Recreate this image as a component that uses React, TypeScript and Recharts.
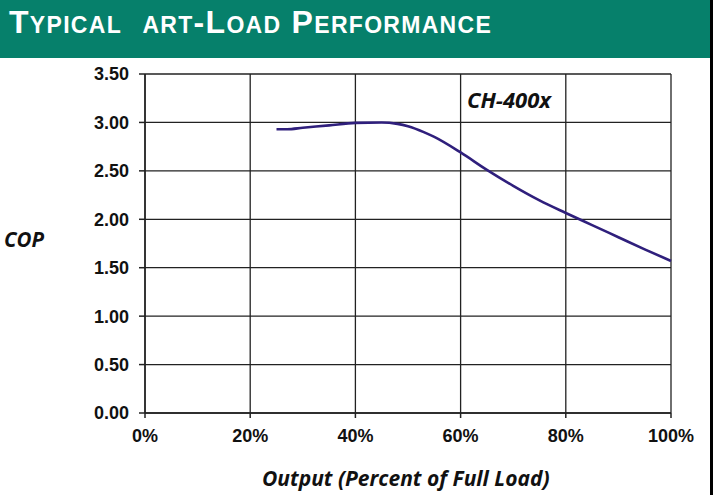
import React from "react";
import { LineChart, Line, XAxis, YAxis, CartesianGrid } from "recharts";

const outputPct = [25, 27, 30, 35, 40, 45, 48, 50, 53, 55, 60, 65, 70, 75, 80, 85, 90, 95, 100];
const copValues = [2.93, 2.93, 2.945, 2.97, 2.995, 3.0, 2.985, 2.96, 2.9, 2.85, 2.69, 2.51, 2.345, 2.195, 2.065, 1.94, 1.815, 1.69, 1.57];
const xTicks = [0, 20, 40, 60, 80, 100];
const yTicks = [0, 0.5, 1, 1.5, 2, 2.5, 3, 3.5];

const data = outputPct.map((p, i) => ({ pct: p, cop: copValues[i] }));

const tickStyle = {
  fontFamily: "'Liberation Sans', Arial, sans-serif",
  fontWeight: 700,
  fontSize: 18,
  fill: "#111",
};

const italicLabel: React.CSSProperties = {
  position: "absolute",
  fontFamily: "'Open Sans', sans-serif",
  fontStyle: "italic",
  fontWeight: 700,
  color: "#111",
  whiteSpace: "pre",
  lineHeight: 1,
};

export default function App() {
  const big = { fontSize: 32 };
  const small = { fontSize: 23 };
  return (
    <div style={{ position: "absolute", left: 0, top: 0, width: 715, height: 495, background: "#fff", overflow: "hidden" }}>
      <div style={{ position: "absolute", left: 0, top: 0, width: 710, height: 58, background: "#06806B" }} />
      <div style={{ position: "absolute", left: 710, top: 0, width: 3, height: 495, background: "#000" }} />
      <div
        style={{
          position: "absolute",
          left: 9,
          top: 2,
          color: "#fff",
          fontFamily: "'Liberation Sans', Arial, sans-serif",
          fontWeight: 700,
          whiteSpace: "pre",
          lineHeight: "40px",
          letterSpacing: 1.3,
        }}
      >
        <span style={big}>T</span>
        <span style={small}>YPICAL</span>
        <span style={big}>{"  "}</span>
        <span style={small}>ART</span>
        <span style={big}>-L</span>
        <span style={small}>OAD</span>
        <span style={big}> P</span>
        <span style={small}>ERFORMANCE</span>
      </div>
      <div style={{ position: "absolute", left: 0, top: 0 }}>
        <LineChart width={715} height={495} data={data} margin={{ top: 74, right: 44, left: 85, bottom: 42 }}>
          <CartesianGrid stroke="#222" strokeWidth={1.3} />
          <XAxis
            dataKey="pct"
            type="number"
            domain={[0, 100]}
            ticks={xTicks}
            tickFormatter={(v: number) => `${v}%`}
            tick={tickStyle}
            tickSize={5}
            tickMargin={11}
            height={40}
            stroke="#222"
            strokeWidth={1.5}
            interval={0}
          />
          <YAxis
            type="number"
            domain={[0, 3.5]}
            ticks={yTicks}
            tickFormatter={(v: number) => v.toFixed(2)}
            tick={tickStyle}
            tickSize={6}
            tickMargin={10}
            width={60}
            stroke="#222"
            strokeWidth={1.5}
            interval={0}
          />
          <Line
            dataKey="cop"
            type="monotone"
            stroke="#2F1F7C"
            strokeWidth={2.6}
            dot={false}
            isAnimationActive={false}
          />
        </LineChart>
      </div>
      <div style={{ ...italicLabel, left: 4, top: 229, fontSize: 20.5 }}>COP</div>
      <div style={{ ...italicLabel, left: 467, top: 88, fontSize: 22 }}>CH-400x</div>
      <div style={{ ...italicLabel, left: 262, top: 468, fontSize: 21 }}>Output (Percent of Full Load)</div>
    </div>
  );
}
